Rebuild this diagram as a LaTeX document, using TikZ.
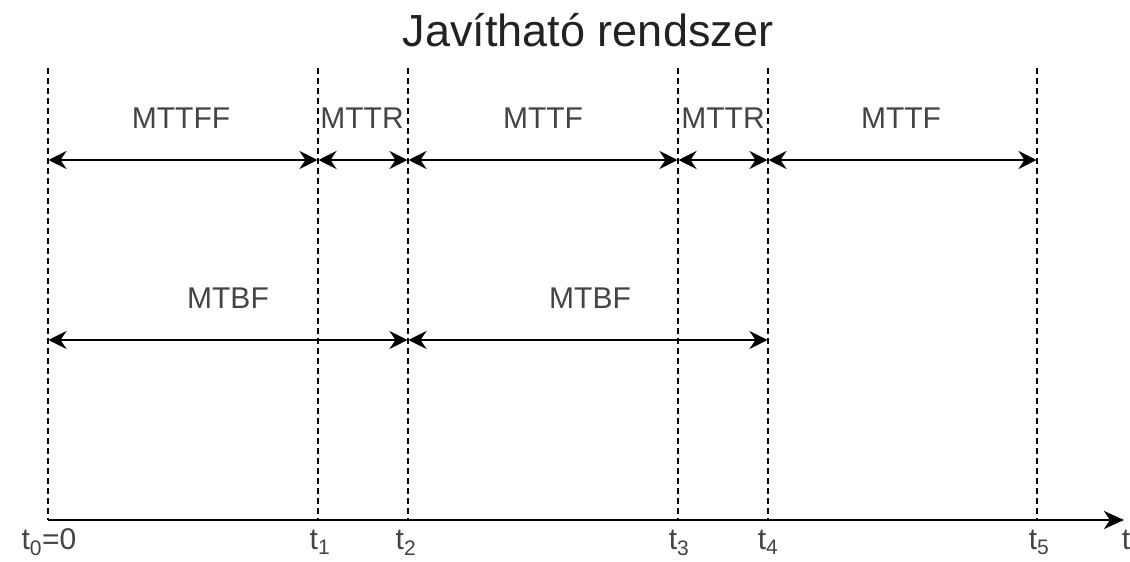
\documentclass[tikz,border=0pt]{standalone}
\usepackage{fontspec}
\setmainfont{Liberation Sans}
\usetikzlibrary{arrows.meta}
\definecolor{labelgray}{HTML}{444444}
\definecolor{titlegray}{HTML}{222222}
\begin{document}
\begin{tikzpicture}[x=1pt,y=-1pt,
  guide/.style={line width=1.8pt,dash pattern=on 6pt off 4pt},
  span/.style={line width=2.6pt,{Stealth[length=18pt,width=18pt,inset=6pt]}-{Stealth[length=18pt,width=18pt,inset=6pt]},shorten <=0.5pt,shorten >=0.5pt},
  axisline/.style={line width=2.6pt,-{Stealth[length=20pt,width=18pt,inset=6pt]}},
  lbl/.style={text=labelgray,font=\fontsize{30}{34}\selectfont,inner sep=0pt},
  ticklbl/.style={text=labelgray,font=\fontsize{30}{34}\selectfont,inner sep=0pt,anchor=base}]
\useasboundingbox (0,0) rectangle (1130,562);
\fill[white] (0,0) rectangle (1130,562);

% title
\node[text=titlegray,font=\fontsize{45}{50}\selectfont,inner sep=0pt] (title) at (588,30) {Javítható rendszer};

% time instants: top and bottom of each guide line
\foreach \i/\x in {0/48,1/318,2/408,3/678,4/768,5/1037}{
  \coordinate (top\i) at (\x,68);
  \coordinate (bot\i) at (\x,520);
  \coordinate (r\i) at (\x,160);
  \coordinate (m\i) at (\x,340);
  \draw[guide] (top\i) -- (bot\i);
}
\coordinate (axisend) at (1124,520);

% time axis
\draw[axisline] (bot0) -- (axisend);

% upper row of intervals
\draw[span] (r0) -- (r1);
\draw[span] (r1) -- (r2);
\draw[span] (r2) -- (r3);
\draw[span] (r3) -- (r4);
\draw[span] (r4) -- (r5);

% lower row of intervals
\draw[span] (m0) -- (m2);
\draw[span] (m2) -- (m4);

% interval labels
\node[lbl] (l1) at (181,118) {MTTFF};
\node[lbl] (l2) at (362,118) {MTTR};
\node[lbl] (l3) at (543,118) {MTTF};
\node[lbl] (l4) at (723,118) {MTTR};
\node[lbl] (l5) at (901,118) {MTTF};
\node[lbl] (b1) at (228,298) {MTBF};
\node[lbl] (b2) at (590,298) {MTBF};

% instant labels
\node[ticklbl] (t0) at (49,549) {t\textsubscript{0}=0};
\node[ticklbl] (t1) at (320,549) {t\textsubscript{1}};
\node[ticklbl] (t2) at (406,549) {t\textsubscript{2}};
\node[ticklbl] (t3) at (679,549) {t\textsubscript{3}};
\node[ticklbl] (t4) at (768,549) {t\textsubscript{4}};
\node[ticklbl] (t5) at (1039,549) {t\textsubscript{5}};
\node[ticklbl] (tt) at (1126,549) {t};
\end{tikzpicture}
\end{document}
